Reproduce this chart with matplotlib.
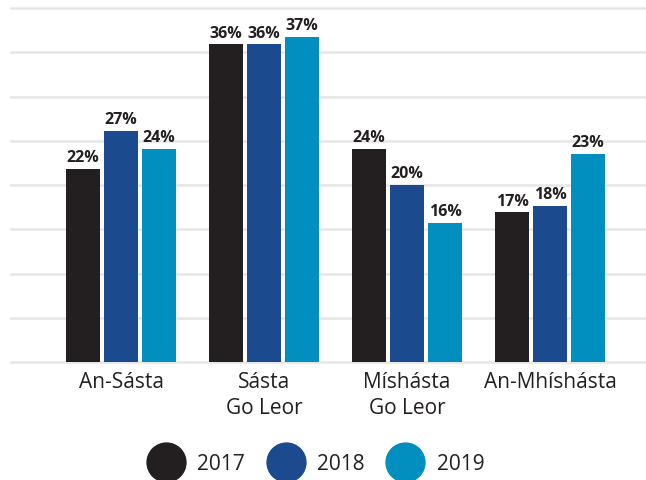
import matplotlib
matplotlib.use("Agg")
import matplotlib.pyplot as plt
from matplotlib.lines import Line2D
import numpy as np

plt.rcParams['font.family'] = ['Open Sans', 'DejaVu Sans']

categories = ["An-Sásta", "Sásta\nGo Leor", "Míshásta\nGo Leor", "An-Mhíshásta"]
years = ["2017", "2018", "2019"]
values_2017 = [21.8, 35.9, 24.1, 16.9]
values_2018 = [26.1, 35.9, 20.0, 17.6]
values_2019 = [24.1, 36.7, 15.7, 23.5]
labels_2017 = ["22%", "36%", "24%", "17%"]
labels_2018 = ["27%", "36%", "20%", "18%"]
labels_2019 = ["24%", "37%", "16%", "23%"]
colors = ["#231F20", "#1B4A8F", "#008FBF"]

series = [values_2017, values_2018, values_2019]
series_labels = [labels_2017, labels_2018, labels_2019]

fig = plt.figure(figsize=(6.46, 4.80), dpi=100)
ax = fig.add_axes([11/646, 1 - 362/480, 1 - 11/646, (362 - 8)/480])

x = np.arange(len(categories))
width = 0.238
pitch = 0.266
for i, (vals, labs) in enumerate(zip(series, series_labels)):
    pos = x + (i - 1) * pitch
    bars = ax.bar(pos, vals, width=width, color=colors[i], zorder=3)
    for b, lab in zip(bars, labs):
        ax.annotate(lab, (b.get_x() + b.get_width() / 2, b.get_height()),
                    xytext=(0, 2), textcoords="offset points",
                    ha="center", va="bottom", fontsize=11.5, fontweight="bold",
                    color="#231F20", zorder=4)

ax.set_xlim(-0.77, 3.67)
ax.set_ylim(0, 40)
ax.set_yticks(np.arange(0, 41, 5))
ax.yaxis.grid(True, color="#E6E6E6", linewidth=1.8, zorder=0)
for gl in ax.get_ygridlines():
    gl.set_clip_on(False)
ax.set_yticklabels([])
ax.tick_params(axis="y", length=0)
ax.tick_params(axis="x", length=0, pad=7)
ax.set_xticks(x)
ax.set_xticklabels(categories, fontsize=15, color="#231F20", linespacing=1.3)
for s in ax.spines.values():
    s.set_visible(False)

handles = [Line2D([0], [0], marker="o", linestyle="none", markersize=28,
                  markerfacecolor=c, markeredgecolor=c) for c in colors]
fig.legend(handles, years, loc="center", bbox_to_anchor=(0.487, 1 - 464/480),
           ncol=3, frameon=False, fontsize=15, handletextpad=0.5,
           columnspacing=0.96, labelcolor="#231F20", borderpad=0)

fig.savefig("out.png", dpi=100, facecolor="white")
